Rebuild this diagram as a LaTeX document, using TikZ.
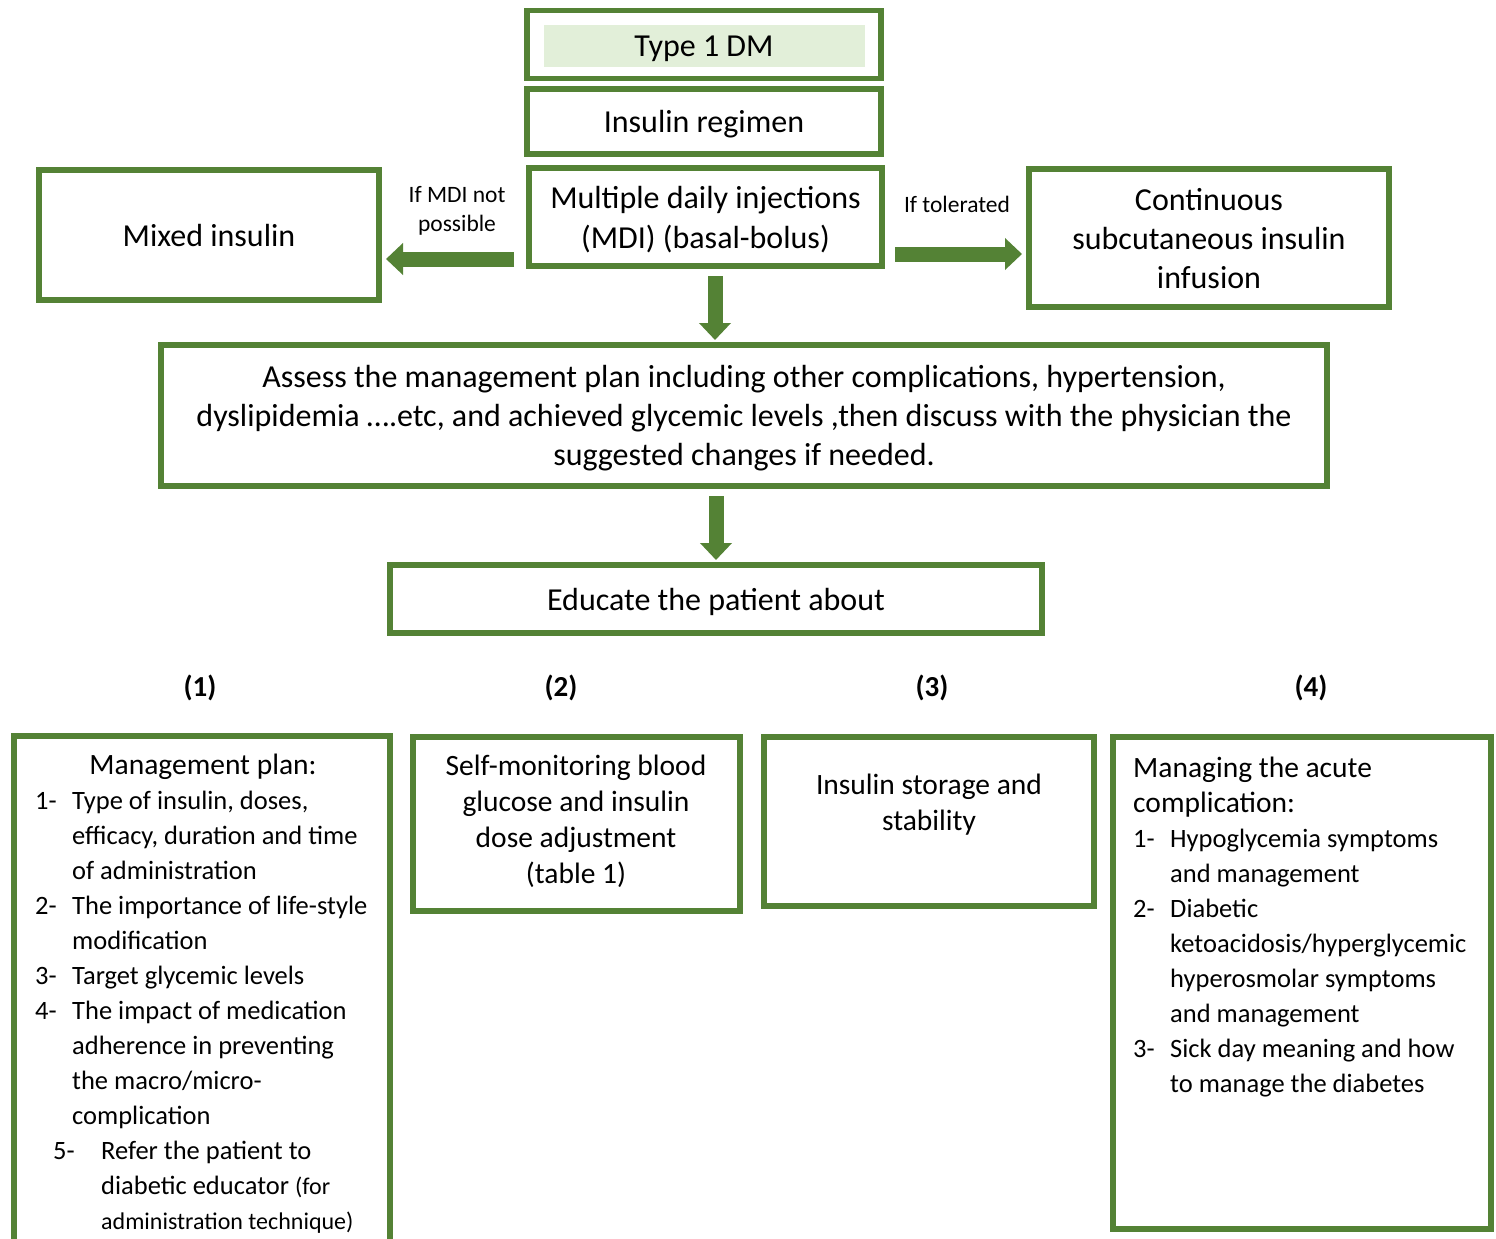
\documentclass[tikz,border=0pt]{standalone}
\usepackage{fontspec}
\setmainfont{Carlito}
\usetikzlibrary{arrows.meta,calc}
\definecolor{mygreen}{RGB}{84,130,53}
\definecolor{mylight}{RGB}{226,239,217}

\newcommand{\fs}[2]{\fontsize{#1}{#2}\selectfont}
\newcommand{\nb}[1]{\makebox[37pt][l]{#1}}
\newcommand{\ind}{\hspace*{37pt}}

\begin{document}
\begin{tikzpicture}[x=1pt, y=-1pt,
    box/.style={draw=mygreen, line width=5.5pt, inner sep=0pt, align=center, font=\fs{32}{39},
        text depth=-3pt},
    blockarrow/.style={mygreen, line width=15pt, -{Triangle[length=17pt,width=31pt]}},
    listtext/.style={inner sep=0pt, align=left, anchor=north west, font=\fs{26.5}{35}},
    boxtext/.style={inner sep=0pt, align=center, anchor=north, font=\fs{29.5}{36}},
    smalltext/.style={inner sep=0pt, align=center, font=\fs{23.5}{29}}]
        \useasboundingbox (0,0) rectangle (1496,1239);

        % -- top column: type, regimen, MDI --
        \node[box, minimum width=354, minimum height=68] (typeone) at (704,44.3) {};
        \node[fill=mylight, minimum width=321, minimum height=42, inner sep=0pt,
            text height=26pt, text depth=4pt, font=\fs{32}{39}] (typelabel) at (704,46) {Type 1 DM};
        \node[box, minimum width=354, minimum height=65, text depth=-9pt] (regimen) at (704,121.5) {Insulin regimen};
        \node[box, minimum width=353, minimum height=98, text depth=-10pt, font=\fs{32}{40}] (mdi) at (705.5,217)
            {Multiple daily injections\\(MDI) (basal-bolus)};

        % -- side options --
        \node[box, minimum width=340, minimum height=130] (mixed) at (209,235) {Mixed insulin};
        \node[box, minimum width=360, minimum height=138] (csii) at (1209,238)
            {Continuous\\subcutaneous insulin\\infusion};
        \node[smalltext] (notlabel) at (457,210.5) {If MDI not\\possible};
        \node[smalltext] (tollabel) at (957,204) {If tolerated};

        \draw[blockarrow, shorten <=12.25pt, shorten >=4.25pt] (mdi.west |- 0,259) -- (mixed.east |- 0,259);
        \draw[blockarrow, shorten <=10.25pt, shorten >=4.25pt] (mdi.east |- 0,254) -- (csii.west |- 0,254);

        % -- assess and educate --
        \node[box, minimum width=1166, minimum height=141] (assess) at (744,415.5)
            {Assess the management plan including other complications, hypertension,\\
             dyslipidemia ….etc, and achieved glycemic levels ,then discuss with the physician the\\
             suggested changes if needed.};
        \node[box, minimum width=652, minimum height=68] (educate) at (716,599) {Educate the patient about};

        \draw[blockarrow, shorten <=7.25pt, shorten >=2.25pt] (715,0 |- mdi.south) -- (715,0 |- assess.north);
        \draw[blockarrow, shorten <=7.25pt, shorten >=2.25pt] (716,0 |- assess.south) -- (716,0 |- educate.north);

        % -- numbered columns --
        \foreach \xv/\lab in {200/1, 561/2, 932/3, 1311/4}
            \node[font=\fs{29}{32}\bfseries] (num\lab) at (\xv,688) {(\lab)};

        \node[box, minimum width=376, minimum height=564] (plan) at (202,1018) {};
        \node[box, minimum width=327, minimum height=174] (smbg) at (576.5,824) {};
        \node[box, minimum width=330, minimum height=169] (storage) at (929,821.5) {};
        \node[box, minimum width=378, minimum height=492] (acute) at (1302,983) {};

        % -- column 1 --
        \node[inner sep=0pt, anchor=base, font=\fs{29.5}{35}] (plantitle) at (203,774) {Management plan:};
        \node[listtext] (planlist) at (35,785) {\strut\nb{1-}Type of insulin, doses,\\
            \ind efficacy, duration and time\\
            \ind of administration\\
            \nb{2-}The importance of life-style\\
            \ind modification\\
            \nb{3-}Target glycemic levels\\
            \nb{4-}The impact of medication\\
            \ind adherence in preventing\\
            \ind the macro/micro-\\
            \ind complication\\
            \hspace*{18pt}\makebox[48pt][l]{5-}Refer the patient to\\
            \hspace*{66pt}diabetic educator {\fs{24}{35}(for}\\
            \hspace*{66pt}{\fs{24}{33}administration technique)}};

        % -- columns 2 and 3 --
        \node[boxtext] (smbgtext) at (576,750) {\strut Self-monitoring blood\\
            glucose and insulin\\dose adjustment\\(table 1)};
        \node[boxtext] (storagetext) at (929,769) {\strut Insulin storage and\\stability};

        % -- column 4 --
        \node[listtext] (acutelist) at (1133,752.5) {\strut{\fs{29.5}{35}Managing the acute}\\
            {\fs{29.5}{35}complication:}\\
            \nb{1-}Hypoglycemia symptoms\\
            \ind and management\\
            \nb{2-}Diabetic\\
            \ind ketoacidosis/hyperglycemic\\
            \ind hyperosmolar symptoms\\
            \ind and management\\
            \nb{3-}Sick day meaning and how\\
            \ind to manage the diabetes};
\end{tikzpicture}
\end{document}
